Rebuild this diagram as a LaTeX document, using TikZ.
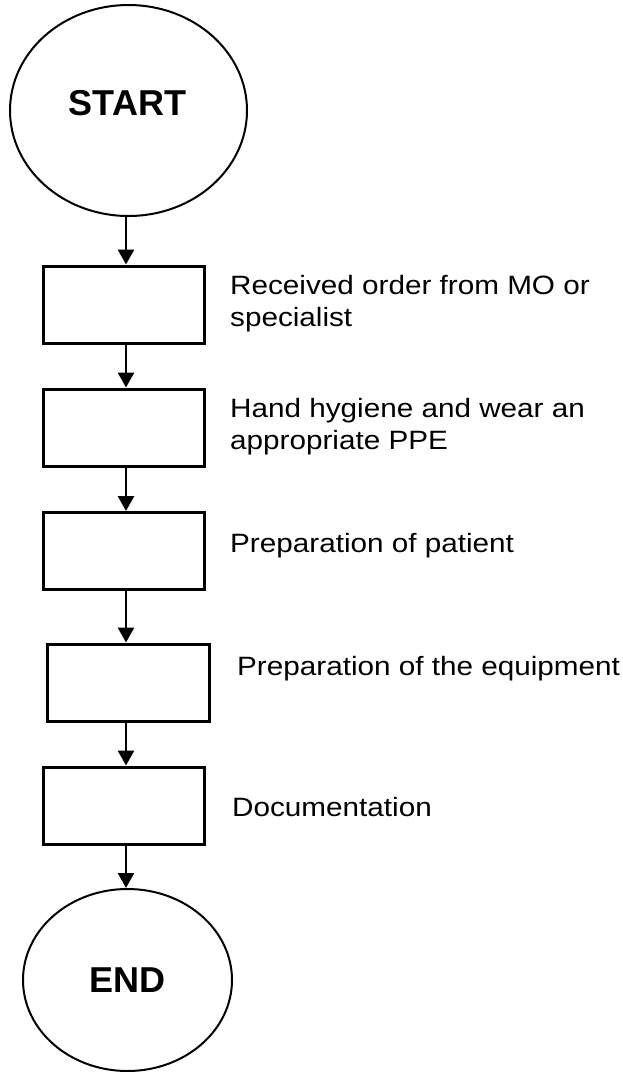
\documentclass[tikz,border=0pt]{standalone}
\usepackage{fontspec}
\setmainfont{Liberation Sans}
\newfontfamily\stretchfont[FakeStretch=1.12]{Liberation Sans}
\usetikzlibrary{shapes.geometric,arrows.meta}
\begin{document}
\begin{tikzpicture}[x=1pt,y=-1pt,
  term/.style={draw,ellipse,line width=2pt,inner sep=0pt},
  termtxt/.style={anchor=base,inner sep=0pt,font=\fontsize{36}{40}\selectfont\bfseries},
  stepbox/.style={draw,rectangle,line width=3pt,inner sep=0pt,minimum width=161pt,minimum height=77pt},
  lbl/.style={anchor=base west,inner sep=0pt,align=left,font=\stretchfont\fontsize{26.5}{32}\selectfont},
  arr/.style={line width=2.8pt,-{Triangle[width=16pt,length=15pt]}}]
\useasboundingbox (0,0) rectangle (623,1072);
\node[term,minimum width=237pt,minimum height=211pt] (start) at (128.5,110.5) {};
\node[termtxt] (starttxt) at (127.5,115) {START};
\node[stepbox] (b1) at (123.5,304.5) {};
\node[stepbox] (b2) at (123.5,427.5) {};
\node[stepbox] (b3) at (123.5,551) {};
\node[stepbox,minimum width=162pt] (b4) at (128,682.5) {};
\node[stepbox] (b5) at (123.5,805.5) {};
\node[term,minimum width=209pt,minimum height=182pt] (end) at (127.5,980) {};
\node[termtxt] (endtxt) at (127.5,992) {END};
\coordinate (ax) at (126,0);
\draw[arr] (start.south -| ax) -- (b1.north -| ax);
\draw[arr] (b1.south -| ax) -- (b2.north -| ax);
\draw[arr] (b2.south -| ax) -- (b3.north -| ax);
\draw[arr] (b3.south -| ax) -- (b4.north -| ax);
\draw[arr] (b4.south -| ax) -- (b5.north -| ax);
\draw[arr] (b5.south -| ax) -- (end.north -| ax);
\node[lbl] (t1) at (230,326) {Received order from MO or\\specialist};
\node[lbl] (t2) at (230,449) {Hand hygiene and wear an\\appropriate PPE};
\node[lbl] (t3) at (230,552) {Preparation of patient};
\node[lbl] (t4) at (237,675) {Preparation of the equipment};
\node[lbl] (t5) at (232,816) {Documentation};
\end{tikzpicture}
\end{document}
